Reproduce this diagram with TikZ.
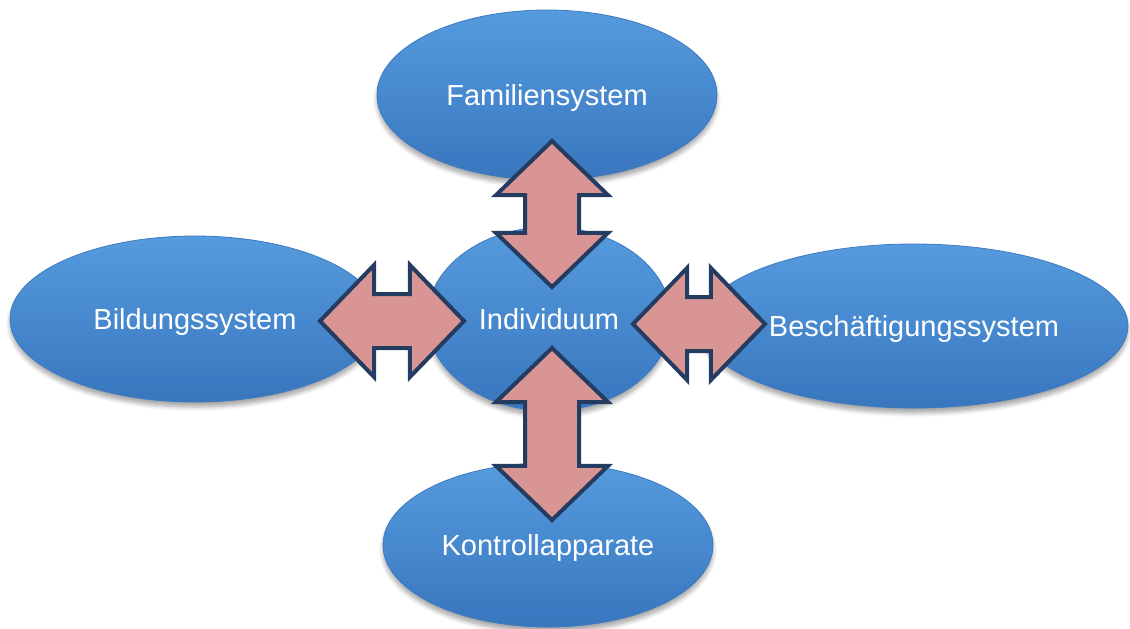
\documentclass[tikz,border=0pt]{standalone}
\usepackage{fontspec}
\setmainfont{Liberation Sans}
\usepackage{tikz}
\usetikzlibrary{shapes.geometric}
\usetikzlibrary{shapes.arrows}
\usetikzlibrary{shadows.blur}

\definecolor{ellioben}{RGB}{86,155,222}
\definecolor{elliunten}{RGB}{56,118,190}
\definecolor{ellirand}{RGB}{62,122,192}
\definecolor{pfeil}{RGB}{217,149,148}
\definecolor{pfeilrand}{RGB}{36,60,96}

\tikzset{
  system/.style={ellipse, inner sep=0pt, top color=ellioben, bottom color=elliunten,
    draw=ellirand, line width=0.4pt, text=white, text depth=0pt,
    font=\fontsize{14.5}{17}\selectfont,
    blur shadow={shadow xshift=0pt, shadow yshift=-2.5pt, shadow blur steps=6, shadow opacity=35}},
  dblpfeil/.style={double arrow, draw=pfeilrand, fill=pfeil, line width=2pt,
    inner xsep=0pt, inner ysep=12.5pt,
    double arrow tip angle=92, double arrow head extend=14.5pt, minimum width=53pt}
}

\begin{document}
\begin{tikzpicture}[x=0.5pt, y=-0.5pt]
        \useasboundingbox (0, 0) rectangle (1130, 628);

        \node[system, minimum width=170pt, minimum height=85pt] (fam)   at (547, 95)  {Familiensystem};
        \node[system, minimum width=185pt, minimum height=83pt] (bild)  at (195, 319) {Bildungssystem};
        \node[system, minimum width=122pt, minimum height=92pt] (indiv) at (549, 319) {Individuum};
        \node[system, minimum width=214pt, minimum height=82pt] (besch) at (914, 326) {Beschäftigungssystem};
        \node[system, minimum width=165pt, minimum height=82pt] (kontr) at (548, 545) {Kontrollapparate};

        % Pfeile
        \node[dblpfeil, rotate=90, minimum height=73pt] (pfam)   at (552, 214) {};
        \node[dblpfeil, minimum height=72pt]            (pbild)  at (392, 321) {};
        \node[dblpfeil, minimum height=66pt]            (pbesch) at (699, 324) {};
        \node[dblpfeil, rotate=90, minimum height=86pt] (pkontr) at (552, 434) {};
      \end{tikzpicture}
\end{document}
